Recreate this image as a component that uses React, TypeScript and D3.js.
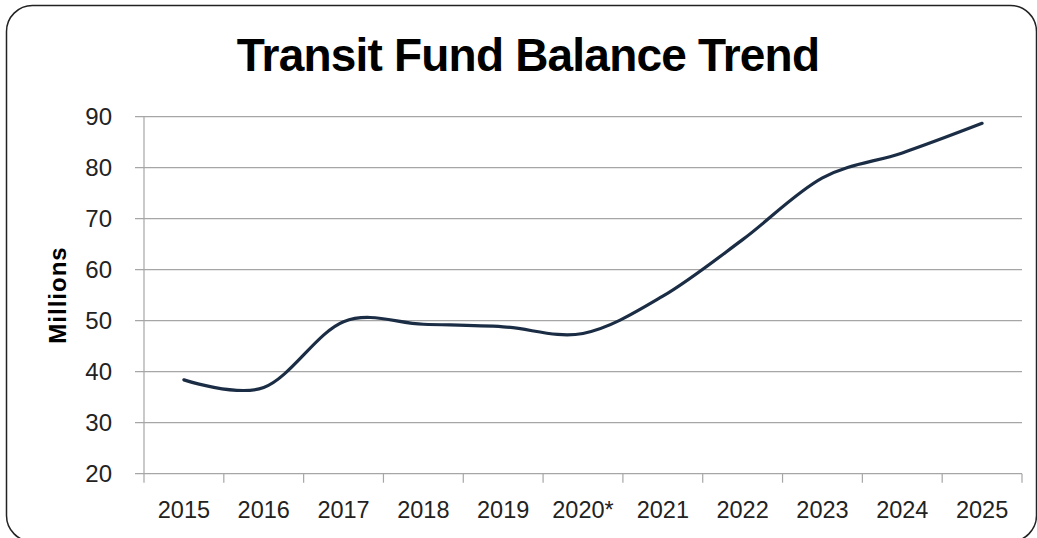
import React from "react";
import * as d3 from "d3";

const categories = ["2015", "2016", "2017", "2018", "2019", "2020*", "2021", "2022", "2023", "2024", "2025"];
const balances = [38.4, 36.9, 49.8, 49.3, 48.8, 47.5, 54.8, 65.9, 78, 82.9, 88.7];
const yTicks = [20, 30, 40, 50, 60, 70, 80, 90];
const title = "Transit Fund Balance Trend";
const yTitle = "Millions";

const W = 1037;
const H = 538;
const left = 144;
const right = 1022;
const top = 116.7;
const bottom = 473.7;

export default function App() {
  const x = d3.scaleBand<string>().domain(categories).range([left, right]).padding(0);
  const y = d3.scaleLinear().domain([20, 90]).range([bottom, top]);
  const line = d3
    .line<number>()
    .x((_, i) => (x(categories[i]) as number) + x.bandwidth() / 2)
    .y((d) => y(d))
    .curve(d3.curveCatmullRom.alpha(0));
  const gridColor = "#a6a6a6";
  const xTickPos = categories.map((c) => x(c) as number).concat([right]);
  return (
    <svg width={W} height={H} style={{ position: "absolute", left: 0, top: 0 }} fontFamily="'Liberation Sans', Arial, sans-serif">
      <rect x={0} y={0} width={W} height={H} fill="#fff" />
      <rect x={6.5} y={5.5} width={1030} height={536} rx={26} ry={26} fill="none" stroke="#222" strokeWidth={1.5} />
      <text x={528} y={71} textAnchor="middle" fontSize={46} fontWeight="bold" letterSpacing={-0.8} fill="#000">
        {title}
      </text>
      {yTicks.map((t) => (
        <g key={t}>
          <line x1={135} x2={right} y1={y(t)} y2={y(t)} stroke={gridColor} strokeWidth={1.2} />
          <text x={112} y={y(t)} dy="0.36em" textAnchor="end" fontSize={24} fill="#222">
            {t}
          </text>
        </g>
      ))}
      <line x1={left} x2={left} y1={top} y2={bottom} stroke={gridColor} strokeWidth={1.2} />
      {xTickPos.map((p, i) => (
        <line key={i} x1={p} x2={p} y1={bottom} y2={bottom + 9} stroke={gridColor} strokeWidth={1.2} />
      ))}
      {categories.map((c) => (
        <text key={c} x={(x(c) as number) + x.bandwidth() / 2} y={517.5} textAnchor="middle" fontSize={23.5} fill="#222">
          {c}
        </text>
      ))}
      <text transform={`translate(66,295) rotate(-90)`} textAnchor="middle" fontSize={24} fontWeight="bold" letterSpacing={1} fill="#000">
        {yTitle}
      </text>
      <path d={line(balances) || ""} fill="none" stroke="#1b2d45" strokeWidth={3.2} strokeLinecap="round" />
    </svg>
  );
}
